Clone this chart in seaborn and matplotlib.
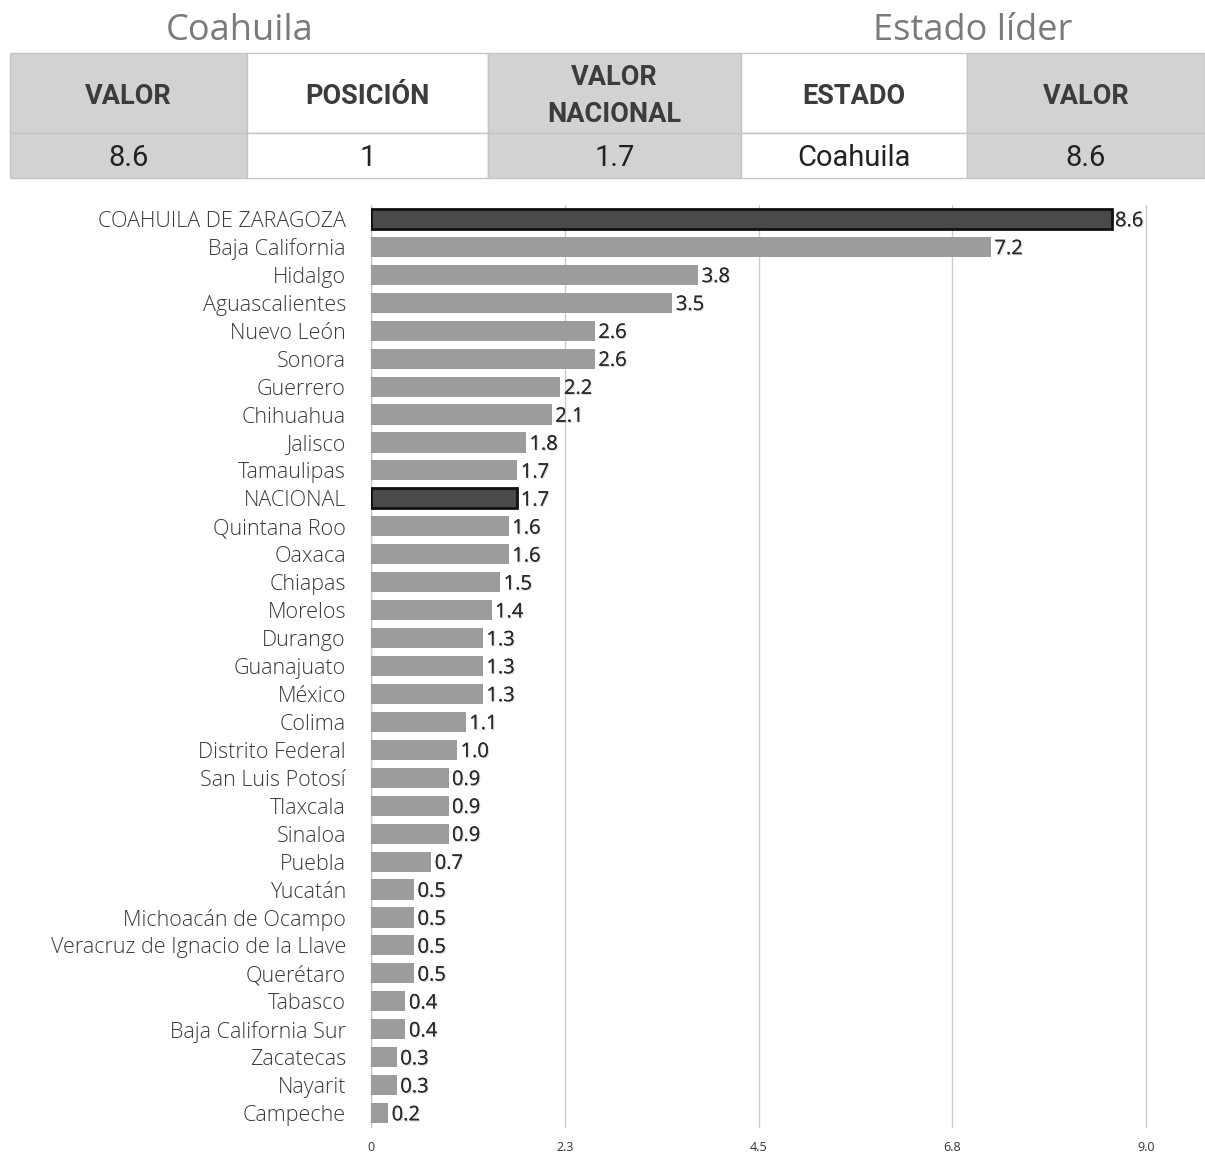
import numpy as np
import pandas as pd
import seaborn as sns
import matplotlib
matplotlib.use("Agg")
from matplotlib import pyplot as plt
from matplotlib.patches import Rectangle
from matplotlib import patheffects as pe

estados = ["COAHUILA DE ZARAGOZA", "Baja California", "Hidalgo", "Aguascalientes",
           "Nuevo León", "Sonora", "Guerrero", "Chihuahua", "Jalisco", "Tamaulipas",
           "NACIONAL", "Quintana Roo", "Oaxaca", "Chiapas", "Morelos", "Durango",
           "Guanajuato", "México", "Colima", "Distrito Federal", "San Luis Potosí",
           "Tlaxcala", "Sinaloa", "Puebla", "Yucatán", "Michoacán de Ocampo",
           "Veracruz de Ignacio de la Llave", "Querétaro", "Tabasco",
           "Baja California Sur", "Zacatecas", "Nayarit", "Campeche"]
valores = [8.6, 7.2, 3.8, 3.5, 2.6, 2.6, 2.2, 2.1, 1.8, 1.7,
           1.7, 1.6, 1.6, 1.5, 1.4, 1.3, 1.3, 1.3, 1.1, 1.0,
           0.9, 0.9, 0.9, 0.7, 0.5, 0.5, 0.5, 0.5, 0.4, 0.4,
           0.3, 0.3, 0.2]
resaltados = ["COAHUILA DE ZARAGOZA", "NACIONAL"]

tabla_encabezados = ["VALOR", "POSICIÓN", "VALOR\nNACIONAL", "ESTADO", "VALOR"]
tabla_valores = ["8.6", "1", "1.7", "Coahuila", "8.6"]
xticks = [0, 2.25, 4.5, 6.75, 9.0]
xtick_labels = ["0", "2.3", "4.5", "6.8", "9.0"]

sns.set_theme(style="white")
plt.rcParams["font.family"] = ["Open Sans", "DejaVu Sans"]

df = pd.DataFrame({"estado": estados, "valor": valores})
paleta = {e: ("#4a4a4a" if e in resaltados else "#9c9c9c") for e in estados}

fig = plt.figure(figsize=(12.05, 11.53), dpi=100)
ax = fig.add_axes([371 / 1205, 1 - 1127 / 1153, (1146 - 371) / 1205, (1127 - 205) / 1153])

sns.barplot(data=df, y="estado", x="valor", hue="estado", palette=paleta,
            legend=False, width=0.72, saturation=1, ax=ax, orient="h")

for i, bar in enumerate(ax.patches):
    if estados[i] in resaltados:
        bar.set_edgecolor("#111111")
        bar.set_linewidth(2)
    else:
        bar.set_edgecolor("none")

sombra = [pe.withSimplePatchShadow(offset=(0.8, -0.8), shadow_rgbFace="#bbbbbb", alpha=0.6),
          pe.Normal()]
for i, v in enumerate(valores):
    ax.text(v + 0.04, i + 0.08, f"{v:.1f}", va="center", ha="left", fontsize=14.5,
            color="#2a2a2a", path_effects=sombra)

ax.set_xlim(0, 9.0)
ax.set_ylim(len(estados) - 0.5, -0.5)
ax.set_xticks(xticks)
ax.set_xticklabels(xtick_labels, fontsize=9, color="#333333")
ax.set_xlabel("")
ax.set_ylabel("")
ax.tick_params(axis="y", length=0, pad=18, labelsize=15.5, labelcolor="#3a3a3a")
for lab in ax.get_yticklabels():
    lab.set_fontweight("light")
ax.tick_params(axis="x", length=0, pad=10)
ax.xaxis.grid(True, color="#cccccc", linewidth=1)
for gl in ax.get_xgridlines():
    gl.set_clip_on(False)
ax.set_axisbelow(True)
for s in ax.spines.values():
    s.set_visible(False)
ax.axvline(0, color="#bbbbbb", linewidth=1, zorder=0)

# encabezado y tabla
top = fig.add_axes([0, 0, 1, 1])
top.set_xlim(0, 1205)
top.set_ylim(1153, 0)
top.axis("off")

top.text(240, 31, "Coahuila", ha="center", va="center", fontsize=26, color="#7a7a7a")
top.text(973, 31, "Estado líder", ha="center", va="center", fontsize=26, color="#7a7a7a")

bordes = [10, 247, 488, 741, 967, 1205]
colores = ["#d1d2d4", "#ffffff", "#d1d2d4", "#ffffff", "#d1d2d4"]
for j in range(5):
    x0, x1 = bordes[j], bordes[j + 1]
    for y0, y1 in [(53, 133), (133, 178)]:
        top.add_patch(Rectangle((x0, y0), x1 - x0, y1 - y0, facecolor=colores[j],
                                edgecolor="#c4c4c4", linewidth=1))
    top.text((x0 + x1) / 2, 96, tabla_encabezados[j], ha="center", va="center",
             fontsize=19.5, fontweight="bold", color="#3c3c3c", family="Roboto",
             linespacing=1.45)
    top.text((x0 + x1) / 2, 158, tabla_valores[j], ha="center", va="center",
             fontsize=21, color="#222222", family="Roboto")

fig.savefig("out.png", dpi=100)
